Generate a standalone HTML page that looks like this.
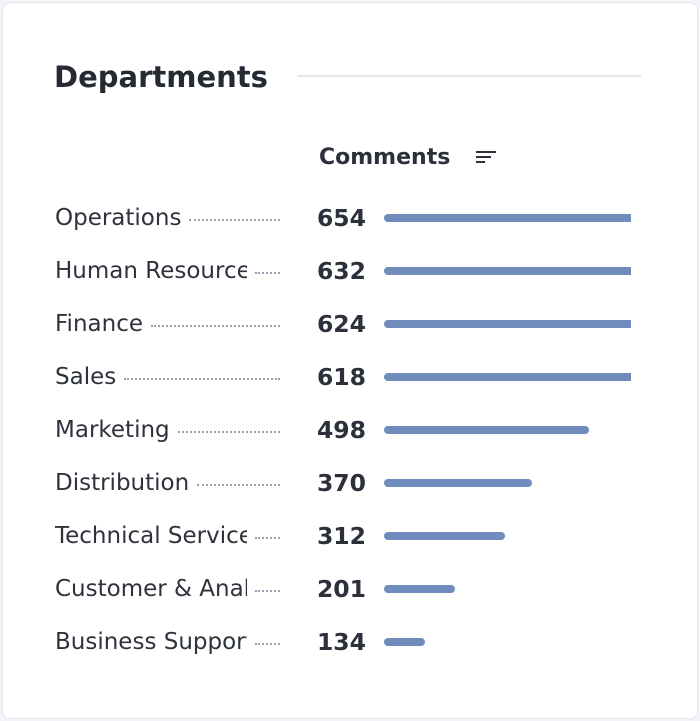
<!DOCTYPE html>
<html><head><meta charset="utf-8"><style>
body{margin:0;width:700px;height:721px;background:#f3f4f8;font-family:"DejaVu Sans","Liberation Sans",sans-serif;overflow:hidden}
.card{position:absolute;left:2px;top:2px;width:694px;height:715px;background:#fff;border:1px solid #e3e5ee;border-radius:8px}
.title{position:absolute;left:54px;top:60px;font-size:29px;font-weight:bold;color:#252a33}
.rule{position:absolute;left:297px;top:75px;width:344px;height:2px;background:#e6e8f0}
.hdr{position:absolute;left:319px;top:145px;font-size:22px;font-weight:bold;color:#2b303a}
.row{position:absolute;left:0;width:700px;height:40px}
.lbl{position:absolute;left:55px;top:0;width:225px;height:30px;overflow:hidden;white-space:nowrap;font-size:23px;color:#2d323c;display:flex;align-items:center}
.lbl span.t{flex:0 0 auto;max-width:192px;overflow:hidden;margin-right:8px}
.lbl span.d{flex:1 1 auto;border-bottom:2px dotted #9aa0ab;height:0;margin-top:4px}
.val{position:absolute;left:260px;width:106px;text-align:right;top:0;line-height:30px;font-size:23.5px;font-weight:bold;color:#2b303a}
.bar{position:absolute;left:384px;top:11px;height:8px;background:#6f8cbd;border-radius:4px 0 0 4px}
</style></head><body>
<div class="card"></div>
<div class="title">Departments</div>
<div class="rule"></div>
<div class="hdr">Comments
<svg width="22" height="16" style="margin-left:18px;vertical-align:-1px"><rect x="0" y="2" width="20" height="2" fill="#2b303a"/><rect x="0" y="7" width="15" height="2" fill="#2b303a"/><rect x="0" y="12" width="9" height="2" fill="#2b303a"/></svg></div>
<div id="rows"></div>
<script>
const categories=["Operations","Human Resources","Finance","Sales","Marketing","Distribution","Technical Services","Customer & Analytics","Business Support"];
const values=[654,632,624,618,498,370,312,201,134];
const maxWidth=247;
function rawW(v){return v*0.45-19;}
function xScale(v){return Math.max(0,Math.min(rawW(v),maxWidth));}
const wrap=document.getElementById('rows');
categories.forEach((c,i)=>{
  const r=document.createElement('div');r.className='row';r.style.top=(203+i*53)+'px';
  
  
  const l=document.createElement('div');l.className='lbl';
  
  
  const t=document.createElement('span');t.className='t';t.textContent=c;
  const d=document.createElement('span');d.className='d';
  l.appendChild(t);l.appendChild(d);
  const v=document.createElement('div');v.className='val';v.textContent=values[i];
  
  
  const b=document.createElement('div');b.className='bar';b.style.width=xScale(values[i])+'px';
  if(rawW(values[i])<maxWidth)b.style.borderRadius='4px';
  
  
  r.appendChild(l);r.appendChild(v);r.appendChild(b);wrap.appendChild(r);
});
</script>
</body></html>
